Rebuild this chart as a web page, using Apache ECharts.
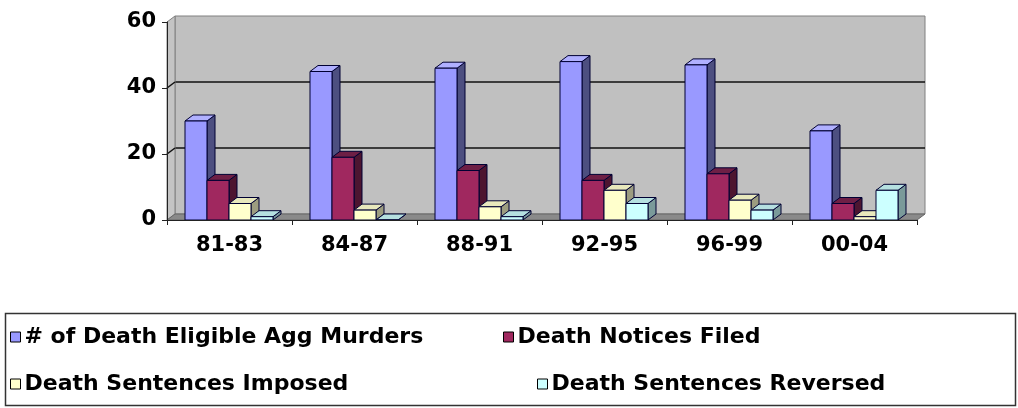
<!DOCTYPE html>
<html><head><meta charset="utf-8">
<script src="https://cdn.jsdelivr.net/npm/echarts@6/dist/echarts.min.js"></script>
<style>html,body{margin:0;padding:0;background:#fff}#c{width:1018px;height:408px}</style>
</head><body><div id="c"></div>
<script>
// ---- data ----
const categories = ['81-83', '84-87', '88-91', '92-95', '96-99', '00-04'];
const seriesNames = ['# of Death Eligible Agg Murders', 'Death Notices Filed', 'Death Sentences Imposed', 'Death Sentences Reversed'];
const eligibleMurders = [30, 45, 46, 48, 47, 27];
const noticesFiled = [12, 19, 15, 12, 14, 5];
const sentencesImposed = [5, 3, 4, 9, 6, 1];
const sentencesReversed = [1, 0, 1, 5, 3, 9];
const yMin = 0, yMax = 60, yStep = 20;

// ---- styles ----
const FONT = '"DejaVu Sans", "Liberation Sans", sans-serif';
const palette = [
  { front: '#9999ff', side: '#4d4f80', top: '#b0b0ff' },
  { front: '#a0285f', side: '#4d1530', top: '#6e1f45' },
  { front: '#ffffcc', side: '#9c9c80', top: '#e8e8bc' },
  { front: '#ccffff', side: '#7a9a9a', top: '#b5e0e0' }
];
const EDGE = '#000033';
const DX = 8, DY = -6;          // depth offset of the 3D look
const BAR_FRAC = 0.176, OFFSET_FRAC = 0.144;
const FRONT = { left: 167, top: 22, width: 750, height: 198 };

const seriesValues = [eligibleMurders, noticesFiled, sentencesImposed, sentencesReversed];

function makeRender(s) {
  const c = palette[s];
  return function (params, api) {
    const i = api.value(0), v = api.value(1);
    const base = api.coord([i, 0]);
    const topPt = api.coord([i, v]);
    const cw = api.size([1, 0])[0];
    const w = cw * BAR_FRAC;
    const x0 = base[0] - cw / 2 + cw * OFFSET_FRAC + s * w;
    const x1 = x0 + w;
    const yb = base[1], yt = topPt[1];
    const st = { stroke: EDGE, lineWidth: 1 };
    return {
      type: 'group',
      children: [
        { type: 'polygon', shape: { points: [[x1, yt], [x1 + DX, yt + DY], [x1 + DX, yb + DY], [x1, yb]] }, style: Object.assign({ fill: c.side }, st) },
        { type: 'polygon', shape: { points: [[x0, yt], [x0 + DX, yt + DY], [x1 + DX, yt + DY], [x1, yt]] }, style: Object.assign({ fill: c.top }, st) },
        { type: 'rect', shape: { x: x0, y: yt, width: w, height: yb - yt }, style: Object.assign({ fill: c.front }, st) }
      ]
    };
  };
}

const legendPos = [
  { left: 10, top: 326 }, { left: 503, top: 326 },
  { left: 10, top: 373 }, { left: 537, top: 373 }
];

const chart = echarts.init(document.getElementById('c'), null, { renderer: 'canvas' });

const option = {
  animation: false,
  backgroundColor: '#fff',
  grid: [
    { left: FRONT.left, top: FRONT.top, width: FRONT.width, height: FRONT.height, show: false },
    { left: FRONT.left + DX, top: FRONT.top + DY, width: FRONT.width, height: FRONT.height, show: true, backgroundColor: '#c0c0c0', borderColor: '#808080', borderWidth: 1, z: 0 }
  ],
  xAxis: [
    { type: 'category', gridIndex: 0, data: categories,
      axisLine: { show: true, lineStyle: { color: '#222', width: 1 } },
      axisTick: { show: true, length: 5, lineStyle: { color: '#222' } },
      axisLabel: { fontFamily: FONT, fontWeight: 'bold', fontSize: 21, color: '#000', margin: 15 },
      z: 3 },
    { type: 'category', gridIndex: 1, data: categories, show: false }
  ],
  yAxis: [
    { type: 'value', gridIndex: 0, min: yMin, max: yMax, interval: yStep,
      axisLine: { show: true, lineStyle: { color: '#222', width: 1 } },
      axisTick: { show: true, length: 5, lineStyle: { color: '#222' } },
      axisLabel: { fontFamily: FONT, fontWeight: 'bold', fontSize: 21, color: '#000', margin: 11 },
      splitLine: { show: false }, z: 3 },
    { type: 'value', gridIndex: 1, min: yMin, max: yMax, interval: yStep,
      axisLine: { show: false }, axisTick: { show: false }, axisLabel: { show: false },
      splitLine: { show: true, showMinLine: false, showMaxLine: false, lineStyle: { color: '#111', width: 1.5 } } }
  ],
  legend: seriesNames.map((n, k) => ({
    data: [{ name: n, itemStyle: { color: palette[k].front, borderColor: '#000', borderWidth: 1 } }],
    left: legendPos[k].left, top: legendPos[k].top,
    padding: 0, itemWidth: 10, itemHeight: 10, itemGap: 0, icon: 'rect',
    selectedMode: false, z: 5,
    textStyle: { fontFamily: FONT, fontWeight: 'bold', fontSize: 22, color: '#000', padding: [0, 0, 0, -1] }
  })),
  series: seriesValues.map((vals, s) => ({
    type: 'custom', name: seriesNames[s], xAxisIndex: 0, yAxisIndex: 0,
    renderItem: makeRender(s),
    itemStyle: { color: palette[s].front, borderColor: '#000', borderWidth: 1 },
    encode: { x: 0, y: 1 },
    data: vals.map((v, i) => [i, v]),
    z: 2
  }))
};
chart.setOption(option);

// walls and floor from the axis scales
const yPix = v => chart.convertToPixel({ yAxisIndex: 0 }, v);
const y0 = yPix(yMin), yTop = yPix(yMax);
const xL = FRONT.left, xR = FRONT.left + FRONT.width;
const wallLines = [];
for (let v = yMin + yStep; v < yMax; v += yStep) {
  const y = yPix(v);
  wallLines.push({ type: 'line', z: 1, shape: { x1: xL, y1: y, x2: xL + DX, y2: y + DY }, style: { stroke: '#111', lineWidth: 1.5 } });
}
chart.setOption({
  graphic: [
    { type: 'rect', z: -1, shape: { x: 5.5, y: 313.5, width: 1010, height: 92 }, style: { fill: '#fff', stroke: '#333', lineWidth: 1.5 } },
    { type: 'polygon', z: 1, shape: { points: [[xL, yTop], [xL + DX, yTop + DY], [xL + DX, y0 + DY], [xL, y0]] }, style: { fill: '#c4c4c4', stroke: '#808080', lineWidth: 1 } },
    { type: 'polygon', z: 1, shape: { points: [[xL, y0], [xL + DX, y0 + DY], [xR + DX, y0 + DY], [xR, y0]] }, style: { fill: '#8a8a8a', stroke: '#666', lineWidth: 1 } }
  ].concat(wallLines)
});
</script>
</body></html>
